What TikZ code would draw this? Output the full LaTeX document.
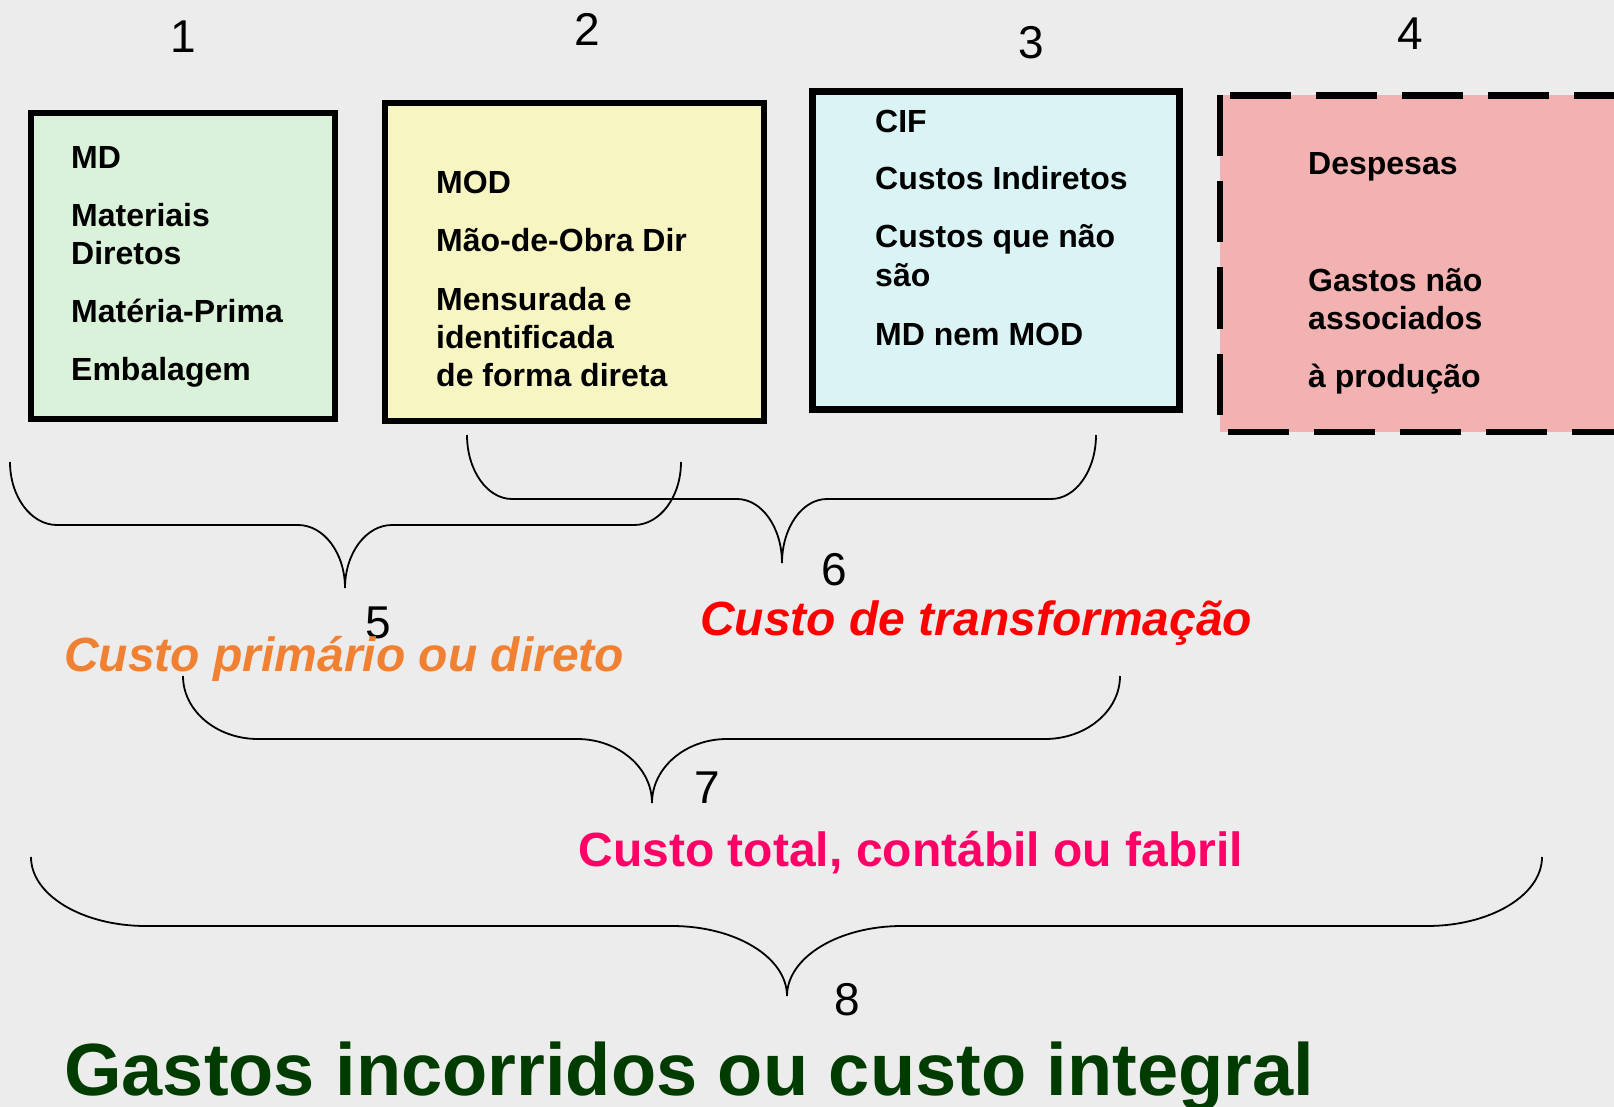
\documentclass[tikz,border=0pt]{standalone}
\usepackage{fontspec}
\setmainfont{Liberation Sans}
\definecolor{bgpaper}{RGB}{236,236,236}
\definecolor{fillA}{RGB}{218,242,218}
\definecolor{fillB}{RGB}{247,245,194}
\definecolor{fillC}{RGB}{218,244,245}
\definecolor{fillD}{RGB}{242,178,178}
\definecolor{orangeT}{RGB}{240,128,50}
\definecolor{redT}{RGB}{255,0,0}
\definecolor{pinkT}{RGB}{255,0,102}
\definecolor{greenT}{RGB}{0,60,0}
\newcommand\cbrace[7]{% x1 x2 xtip ytop ymid ytip rx
  \draw[bracestyle] (#1,#4) .. controls (#1,{#4+0.552*(#5-#4)}) and ({#1+0.448*#7},#5) .. ({#1+#7},#5)
    -- ({#3-#7},#5) .. controls ({#3-0.448*#7},#5) and (#3,{#6-0.552*(#6-#5)}) .. (#3,#6)
    .. controls (#3,{#6-0.552*(#6-#5)}) and ({#3+0.448*#7},#5) .. ({#3+#7},#5)
    -- ({#2-#7},#5) .. controls ({#2-0.448*#7},#5) and (#2,{#4+0.552*(#5-#4)}) .. (#2,#4);}
\tikzset{
  boxstyle/.style={draw=black, line width=6.5pt},
  dashbox/.style={draw=black, line width=6.5pt, dash pattern=on 61pt off 25pt},
  bracestyle/.style={draw=black, line width=1.8pt},
  txt/.style={anchor=base west, inner sep=0pt, font=\fontsize{32}{38}\selectfont\bfseries},
  num/.style={anchor=base, inner sep=0pt, font=\fontsize{46}{55}\selectfont},
  lbl/.style={anchor=base west, inner sep=0pt, font=\fontsize{48}{58}\selectfont\bfseries},
  ilbl/.style={anchor=base west, inner sep=0pt, font=\fontsize{48}{58}\selectfont\bfseries\itshape},
}
\begin{document}
\begin{tikzpicture}[x=1pt,y=-1pt]
\path[clip] (0,0) rectangle (1614,1107);
\fill[bgpaper] (0,0) rectangle (1614,1107);

% boxes
\draw[boxstyle, fill=fillA] (31,113) rectangle (335,419);
\draw[boxstyle, fill=fillB] (385,103) rectangle (764,421);
\draw[boxstyle, fill=fillC] (812.5,91.5) rectangle (1179.5,409.5);
\fill[fillD] (1220,95.5) rectangle (1650,432);
\draw[dashbox] (1220,95.5) -- (1220,432) -- (1650,432) -- (1650,95.5) -- cycle;

% numbers
\node[num] (n1) at (183,53) {1};
\node[num] (n2) at (587,46) {2};
\node[num] (n3) at (1031,59) {3};
\node[num] (n4) at (1410,50) {4};

% box 1 text
\node[txt] (a1) at (71,169) {MD};
\node[txt] (a2) at (71,227) {Materiais};
\node[txt] (a3) at (71,265) {Diretos};
\node[txt] (a4) at (71,322) {Matéria-Prima};
\node[txt] (a5) at (71,380) {Embalagem};
% box 2 text
\node[txt] (b1) at (436,194) {MOD};
\node[txt] (b2) at (436,252) {Mão-de-Obra Dir};
\node[txt] (b3) at (436,310) {Mensurada e};
\node[txt] (b4) at (436,348) {identificada};
\node[txt] (b5) at (436,386) {de forma direta};
% box 3 text
\node[txt] (c1) at (875,133) {CIF};
\node[txt] (c2) at (875,190) {Custos Indiretos};
\node[txt] (c3) at (875,248) {Custos que não};
\node[txt] (c4) at (875,287) {são};
\node[txt] (c5) at (875,345) {MD nem MOD};
% box 4 text
\node[txt] (d1) at (1308,175) {Despesas};
\node[txt] (d2) at (1308,292) {Gastos não};
\node[txt] (d3) at (1308,329) {associados};
\node[txt] (d4) at (1308,387) {à produção};

% braces
\cbrace{10}{681}{345}{462}{525}{588}{47}
\cbrace{467}{1096}{782}{435}{499}{563}{45}
\cbrace{183}{1120}{652}{676}{739}{803}{75}
\cbrace{31}{1542}{787}{857}{926}{996}{115}

% brace numbers
\node[num] (n5) at (378,638) {5};
\node[num] (n6) at (834,585) {6};
\node[num] (n7) at (707,803) {7};
\node[num] (n8) at (847,1015) {8};

% labels
\node[ilbl, text=orangeT] (l5) at (64,671.5) {Custo primário ou direto};
\node[ilbl, text=redT] (l6) at (700,635) {Custo de transformação};
\node[lbl, text=pinkT] (l7) at (578.5,866.5) {Custo total, contábil ou fabril};
\node[anchor=base west, inner sep=0pt, font=\fontsize{74}{88}\selectfont\bfseries, text=greenT] (l8) at (64,1095) {Gastos incorridos ou custo integral};
\end{tikzpicture}
\end{document}
